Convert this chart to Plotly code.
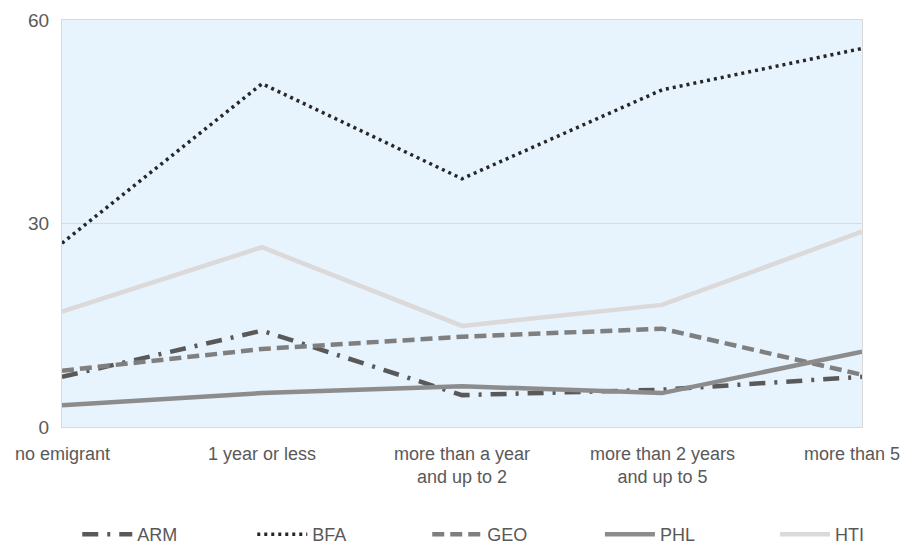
import plotly.graph_objects as go

categories = ["no emigrant", "1 year or less", "more than a year<br>and up to 2",
              "more than 2 years<br>and up to 5", "more than 5"]
ARM = [7.4, 14.2, 4.7, 5.5, 7.4]
BFA = [27.1, 50.6, 36.6, 49.7, 55.8]
GEO = [8.3, 11.5, 13.3, 14.5, 7.7]
PHL = [3.2, 5.0, 6.0, 5.0, 11.1]
HTI = [17.0, 26.5, 14.9, 18.0, 28.8]
y_ticks = [0, 30, 60]

series = [
    ("ARM", ARM, "#595959", "16px,9px,3px,9px", 4.5, "legend"),
    ("BFA", BFA, "#262626", "3px,4px", 3.5, "legend"),
    ("GEO", GEO, "#7f7f7f", "12px,6px", 4.5, "legend"),
    ("PHL", PHL, "#8c8c8c", "solid", 4.5, "legend2"),
    ("HTI", HTI, "#dbd9d9", "solid", 4.5, "legend2"),
]

font_family = "Liberation Sans Narrow, Arial Narrow, Liberation Sans, sans-serif"

fig = go.Figure()
xs = list(range(len(categories)))
for name, vals, color, dash, w, lg in series:
    fig.add_trace(go.Scatter(x=xs, y=vals, mode="lines", name=name, legend=lg,
                             line=dict(color=color, width=w, dash=dash)))

# category labels drawn through the x axis as annotations (so the last one isn't clipped)
for i, lab in enumerate(categories):
    shift = -10 if i == len(categories) - 1 else 0
    fig.add_annotation(x=xs[i], y=0, xref="x", yref="paper", text=lab,
                       showarrow=False, yanchor="top", yshift=-15, xshift=shift,
                       font=dict(size=18, color="#595959"), align="center")

legend_common = dict(orientation="h", xref="container", xanchor="left",
                     yref="container", y=0.06, yanchor="top",
                     font=dict(size=18, color="#595959"), entrywidth=110, itemwidth=50,
                     traceorder="normal")

fig.update_layout(
    width=909, height=549,
    margin=dict(l=62, r=47, t=20, b=122, autoexpand=False),
    paper_bgcolor="white",
    plot_bgcolor="#E7F3FD",
    font=dict(family=font_family, color="#595959", size=17),
    legend=dict(x=0.085, **legend_common),
    legend2=dict(x=0.66, **legend_common),
    showlegend=True,
)
fig.update_xaxes(
    tickmode="array", tickvals=xs, ticktext=[""] * len(xs),
    range=[0, 4], showgrid=False, zeroline=False,
    showline=True, linecolor="#d9d9d9", mirror=True, linewidth=1,
    ticks="",
)
fig.update_yaxes(
    tickmode="array", tickvals=y_ticks, range=[0, 60],
    showgrid=True, gridcolor="#d4dde6", zeroline=False,
    showline=True, linecolor="#d9d9d9", mirror=True, linewidth=1,
    ticks="", tickfont=dict(size=19), ticklabelstandoff=8,
)

fig.write_html("out.html")
